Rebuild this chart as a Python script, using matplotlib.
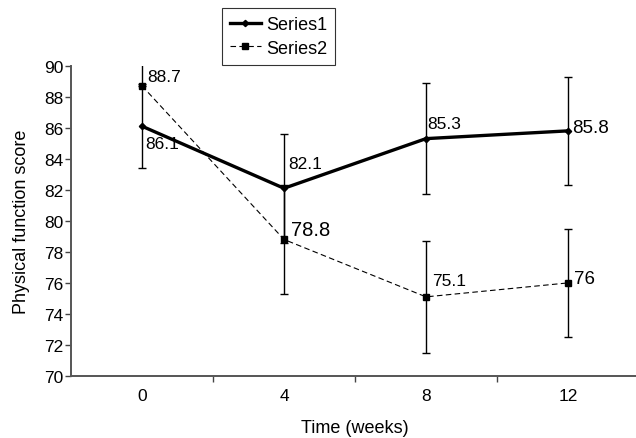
import matplotlib
matplotlib.use("Agg")
import matplotlib.pyplot as plt
import numpy as np

plt.rcParams['font.family'] = ['Liberation Sans', 'DejaVu Sans']

weeks = ["0", "4", "8", "12"]
series1 = [86.1, 82.1, 85.3, 85.8]
series2 = [88.7, 78.8, 75.1, 76.0]
s1_err = [2.7, 3.5, 3.6, 3.5]
s2_err_low = [0.0, 3.5, 3.6, 3.5]
s2_err_high = [3.5, 3.5, 3.6, 3.5]
s1_labels = ["86.1", "82.1", "85.3", "85.8"]
s2_labels = ["88.7", "78.8", "75.1", "76"]
y_ticks = list(range(70, 91, 2))

W, H = 636, 439
fig = plt.figure(figsize=(W / 100, H / 100), dpi=100)
ax = fig.add_axes([71 / W, 1 - 377 / H, 568 / W, (377 - 66.7) / H])

x = np.arange(len(weeks))

ax.errorbar(x, series1, yerr=s1_err, fmt='none', ecolor='black', elinewidth=1,
            capsize=2.6, capthick=1, zorder=2)
ax.errorbar(x, series2, yerr=[s2_err_low, s2_err_high], fmt='none', ecolor='black',
            elinewidth=1, capsize=2.6, capthick=1, zorder=2)

ax.plot(x, series1, color='black', lw=2.4, marker='D', ms=3.2, label='Series1', zorder=3)
ax.plot(x, series2, color='black', lw=0.8, ls=(0, (5, 3)), marker='s', ms=5,
        label='Series2', zorder=3)

# data labels: (dx px, dy px, font size pt)
s1_off = [(3, -17, 12.5), (4, 25, 12.5), (1, 15, 12.5), (4, 3, 13.5)]
s2_off = [(5, 9, 12.5), (7, 10, 14.5), (6, 16, 12.5), (6, 4, 13.5)]
for xi, v, lab, (dx, dy, fs) in zip(x, series1, s1_labels, s1_off):
    ax.annotate(lab, (xi, v), xytext=(dx, dy), textcoords='offset pixels',
                ha='left', va='center', fontsize=fs)
for xi, v, lab, (dx, dy, fs) in zip(x, series2, s2_labels, s2_off):
    ax.annotate(lab, (xi, v), xytext=(dx, dy), textcoords='offset pixels',
                ha='left', va='center', fontsize=fs)

ax.set_xlim(-0.5, 3.5)
ax.set_ylim(70, 90)
ax.set_yticks(y_ticks)
ax.set_yticklabels([str(t) for t in y_ticks], fontsize=12.5)

ax.set_xticks([0.5, 1.5, 2.5])
ax.set_xticklabels([])
ax.set_xticks(x, minor=True)
ax.set_xticklabels(weeks, minor=True, fontsize=12.5)
ax.tick_params(axis='x', which='major', length=4, width=1, color='#444444', direction='out')
ax.tick_params(axis='x', which='minor', length=0, pad=8.5)
ax.tick_params(axis='y', length=4, width=1, color='#444444', pad=1.5)

for s in ['top', 'right']:
    ax.spines[s].set_visible(False)
for s in ['left', 'bottom']:
    ax.spines[s].set_color('#555555')
    ax.spines[s].set_linewidth(1.4)

ax.set_ylabel('Physical function score', fontsize=13, labelpad=10)
ax.set_xlabel('Time (weeks)', fontsize=13, labelpad=12)

leg = fig.legend(loc='upper left', bbox_to_anchor=(221.7 / W, 1 - 9.3 / H),
                 fontsize=13, frameon=True, fancybox=False, borderpad=0.45,
                 handlelength=1.7, handletextpad=0.3, labelspacing=0.35,
                 borderaxespad=0)
leg.get_frame().set_edgecolor('black')
leg.get_frame().set_linewidth(0.8)

fig.savefig('out.png', dpi=100)
